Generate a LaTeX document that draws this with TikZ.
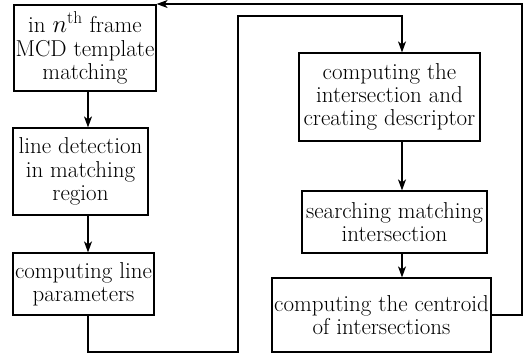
\documentclass[tikz,border=0pt]{standalone}
\usetikzlibrary{arrows.meta}
\begin{document}
\begin{tikzpicture}[x=1pt,y=-1pt,
  box/.style={draw,line width=1.2pt,inner sep=0pt,align=center,
    font=\fontsize{23}{23.2}\selectfont},
  flow/.style={line width=1.2pt,-{Stealth[length=11pt,width=8pt,inset=3pt]}}]
\useasboundingbox (0,0) rectangle (529,354);
\node[box,minimum width=142pt,minimum height=86pt] (A) at (85,48)
  {in $n^{\mathrm{th}}$ frame\\MCD template\\matching};
\node[box,minimum width=135pt,minimum height=87pt] (B) at (80.5,171.5)
  {line detection\\in matching\\region};
\node[box,minimum width=141pt,minimum height=62pt] (C) at (83.5,284)
  {computing line\\parameters};
\node[box,minimum width=181pt,minimum height=88pt] (D) at (389.5,97)
  {computing the\\intersection and\\creating descriptor};
\node[box,minimum width=185pt,minimum height=62pt] (E) at (394.5,222)
  {searching matching\\intersection};
\node[box,minimum width=219pt,minimum height=74pt] (F) at (381.5,315)
  {computing the centroid\\of intersections};
\coordinate (ax) at (88,0);
\coordinate (dx) at (402,0);
\coordinate (c1) at (88,352);
\coordinate (c2) at (238,352);
\coordinate (c3) at (238,16);
\coordinate (c4) at (402,16);
\coordinate (f1) at (522,315);
\coordinate (f2) at (522,4);
\draw[flow] (A.south -| ax) -- (B.north -| ax);
\draw[flow] (B.south -| ax) -- (C.north -| ax);
\draw[flow] (C.south -| ax) -- (c1) -- (c2) -- (c3) -- (c4) -- (D.north -| dx);
\draw[flow] (D.south -| dx) -- (E.north -| dx);
\draw[flow] (E.south -| dx) -- (F.north -| dx);
\draw[flow] (F.east |- f1) -- (f1) -- (f2) -- (A.north east |- f2);
\end{tikzpicture}
\end{document}
